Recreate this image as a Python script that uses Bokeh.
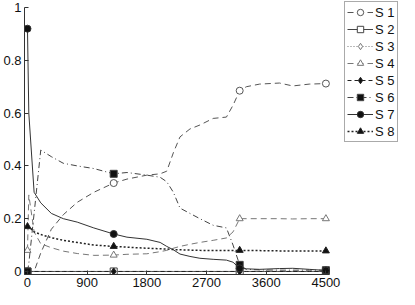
from bokeh.plotting import figure
from bokeh.models import Range1d, FixedTicker, Legend, LegendItem
from bokeh.embed import file_html
from bokeh.resources import INLINE

# ---- data ----
t = [0, 20, 100, 200, 360, 540, 750, 1000, 1300, 1500, 1800, 2000, 2100, 2200,
     2300, 2450, 2600, 2800, 3000, 3100, 3200, 3300, 3500, 3800, 4000, 4250, 4500]

s1 = [0, 0, 0, 0.07, 0.16, 0.215, 0.262, 0.30, 0.335, 0.35, 0.365, 0.37, 0.38, 0.45,
      0.51, 0.54, 0.555, 0.58, 0.585, 0.63, 0.685, 0.70, 0.71, 0.714, 0.703, 0.71, 0.712]
s2 = [0, 0, 0, 0, 0, 0, 0, 0, 0, 0, 0, 0, 0, 0,
      0, 0, 0, 0, 0, 0, 0, 0, 0, 0, 0, 0, 0]
s3 = [0, 0, 0, 0, 0, 0, 0, 0, 0, 0, 0, 0, 0, 0,
      0, 0, 0, 0, 0, 0, 0, 0, 0, 0, 0, 0, 0]
s4 = [0.08, 0.29, 0.15, 0.105, 0.09, 0.077, 0.068, 0.061, 0.062, 0.065, 0.067, 0.075, 0.08, 0.088,
      0.095, 0.103, 0.11, 0.118, 0.127, 0.15, 0.2, 0.2, 0.2, 0.2, 0.199, 0.2, 0.2]
s5 = [0, 0, 0, 0, 0, 0, 0, 0, 0, 0, 0, 0, 0, 0,
      0, 0, 0, 0, 0, 0, 0, 0, 0, 0, 0, 0, 0]
s6 = [0, 0.03, 0.22, 0.46, 0.435, 0.41, 0.40, 0.39, 0.37, 0.375, 0.365, 0.357, 0.34, 0.30,
      0.24, 0.22, 0.20, 0.175, 0.165, 0.10, 0.025, 0.008, 0.006, 0.005, 0.005, 0.005, 0.005]
s7 = [0.92, 0.6, 0.30, 0.26, 0.22, 0.20, 0.187, 0.165, 0.142, 0.13, 0.122, 0.11, 0.095, 0.082,
      0.066, 0.057, 0.05, 0.046, 0.043, 0.035, 0.012, 0.01, 0.008, 0.011, 0.012, 0.008, 0.004]
s8 = [0.17, 0.17, 0.15, 0.14, 0.128, 0.118, 0.11, 0.10, 0.095, 0.092, 0.088, 0.086, 0.085, 0.083,
      0.082, 0.081, 0.08, 0.079, 0.079, 0.079, 0.08, 0.079, 0.079, 0.078, 0.078, 0.078, 0.078]

names = ["S 1", "S 2", "S 3", "S 4", "S 5", "S 6", "S 7", "S 8"]
marker_t = [0, 1300, 3200, 4500]

x_ticks = [0, 900, 1800, 2700, 3600, 4500]
x_labels = ["0", "900", "1800", "2700", "3600", "4500"]
y_ticks = [0, 0.2, 0.4, 0.6, 0.8, 1]
y_labels = ["0", "0.2", "0.4", "0.6", "0.8", "1"]

# ---- styles ----
styles = [
    # color, dash, width, marker, fill
    ("#555555", "6 4", 1, "circle", "white"),
    ("#444444", "solid", 1, "square", "white"),
    ("#777777", "1 2", 1, "diamond", "white"),
    ("#777777", "6 4", 1, "triangle", "white"),
    ("#222222", "4 3", 1, "diamond", "#111111"),
    ("#444444", "6 3 1 3", 1, "square", "#111111"),
    ("#333333", "solid", 1, "circle", "#111111"),
    ("#222222", "2 2", 1.5, "triangle", "#111111"),
]

FONT = "Liberation Sans"
X0, X1 = -45, 5610
Y0, Y1 = -0.0115, 1.0268

p = figure(width=399, height=289, output_backend="svg", toolbar_location=None,
           x_range=Range1d(X0, X1), y_range=Range1d(Y0, Y1),
           min_border_left=0, min_border_right=0, min_border_top=0, min_border_bottom=0)
p.background_fill_color = "white"
p.border_fill_color = "white"
p.outline_line_color = None
p.grid.visible = False

series = [s1, s2, s3, s4, s5, s6, s7, s8]
items = []
for name, ys, (col, dash, lw, mk, fill) in zip(names, series, styles):
    lr = p.line(t, ys, line_color=col, line_dash=dash, line_width=lw)
    my = [ys[t.index(tt)] for tt in marker_t]
    sr = p.scatter(marker_t, my, marker=mk, size=7, fill_color=fill, line_color=col, line_width=1)
    items.append(LegendItem(label=name, renderers=[lr, sr]))

for ax in (p.xaxis[0], p.yaxis[0]):
    ax.major_tick_in = 4
    ax.major_tick_out = 0
    ax.minor_tick_in = 0
    ax.minor_tick_out = 0
    ax.axis_line_color = "#333333"
    ax.major_tick_line_color = "#333333"
    ax.major_label_text_font = FONT
    ax.major_label_text_font_size = "13px"
    ax.major_label_text_color = "#111111"
    ax.major_label_standoff = 3

p.xaxis.ticker = FixedTicker(ticks=x_ticks)
p.xaxis.major_label_overrides = dict(zip(x_ticks, x_labels))
p.xaxis.bounds = (X0, 4560)
p.yaxis.ticker = FixedTicker(ticks=y_ticks)
p.yaxis.major_label_overrides = dict(zip(y_ticks, y_labels))
p.yaxis.bounds = (Y0, 1)

legend = Legend(items=items, location="top_right", glyph_width=26, glyph_height=16,
                label_height=16, spacing=1, padding=2, margin=1,
                border_line_color="#555555", label_text_font=FONT,
                label_text_font_size="13px", label_standoff=2,
                label_text_color="#111111")
p.add_layout(legend, "center")

open("out.html", "w").write(file_html(p, INLINE))
